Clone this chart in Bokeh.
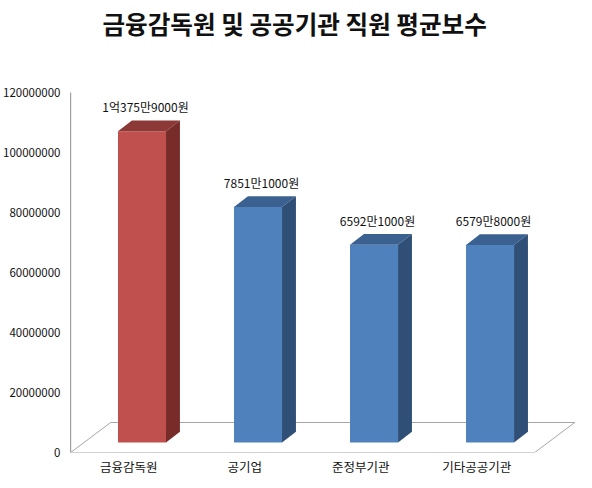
from bokeh.plotting import figure
from bokeh.embed import file_html
from bokeh.resources import INLINE
from bokeh.models import FixedTicker, NumeralTickFormatter
from bokeh.core.properties import value

# ---- data ----
title_text = "금융감독원 및 공공기관 직원 평균보수"
categories = ["금융감독원", "공기업", "준정부기관", "기타공공기관"]
salaries = [103759000, 78511000, 65921000, 65798000]
value_labels = ["1억375만9000원", "7851만1000원", "6592만1000원", "6579만8000원"]
y_ticks = [0, 20000000, 40000000, 60000000, 80000000, 100000000, 120000000]
y_max = 120000000

front_colors = ["#C0504D", "#4F81BD", "#4F81BD", "#4F81BD"]
top_colors = ["#8C3836", "#3B6190", "#3B6190", "#3B6190"]
side_colors = ["#772C2A", "#2F4F76", "#2F4F76", "#2F4F76"]

# ---- geometry (data units: 1 category = 1 x unit, y in won; 3 px per 1,000,000) ----
floor_dx, floor_dy = 0.345, 10000000   # floor depth
bar_dx, bar_dy = 0.12, 3600000         # bar depth
bar_w = 0.414
bar_shift_x, bar_base = 0.115, 3333333  # bar front sits 1/3 into floor depth
label_pad = 1700000
title_x, title_y = 1.931, 143300000

n = len(categories)
FONT = "Noto Sans CJK KR"

p = figure(frame_width=508, frame_height=445, output_backend="svg", toolbar_location=None,
           x_range=(-0.01, 4.369), y_range=(0, 148333333),
           min_border_left=64, min_border_right=4, min_border_top=7, min_border_bottom=27)
p.background_fill_color = "white"
p.border_fill_color = "white"
p.outline_line_color = None
p.grid.visible = False

# title (drawn inside the frame)
p.text(x=[title_x], y=[title_y], text=[title_text], text_font=value(FONT),
       text_font_size="24.6px", text_font_style="bold", text_color="#111111",
       text_align="center", text_baseline="middle")

# value axis line
p.segment(x0=[0], y0=[0], x1=[0], y1=[y_max], line_color="#8C8C8C", line_width=1)

# floor
p.patch([0, n, n + floor_dx, floor_dx], [0, 0, floor_dy, floor_dy],
        fill_color="white", line_color="#A6A6A6", line_width=1)

# bars
lefts = [i + 0.5 + bar_shift_x - bar_w / 2 for i in range(n)]
rights = [l + bar_w for l in lefts]
bottoms = [bar_base] * n
tops = [bar_base + v for v in salaries]

p.quad(left=lefts, right=rights, bottom=bottoms, top=tops,
       fill_color=front_colors, line_color=None)

top_xs = [[l, r, r + bar_dx, l + bar_dx] for l, r in zip(lefts, rights)]
top_ys = [[t, t, t + bar_dy, t + bar_dy] for t in tops]
p.patches(top_xs, top_ys, fill_color=top_colors, line_color=None)

side_xs = [[r, r + bar_dx, r + bar_dx, r] for r in rights]
side_ys = [[b, b + bar_dy, t + bar_dy, t] for b, t in zip(bottoms, tops)]
p.patches(side_xs, side_ys, fill_color=side_colors, line_color=None)

# value labels
lx = [(l + r) / 2 + bar_dx * 0.25 for l, r in zip(lefts, rights)]
ly = [t + bar_dy + label_pad for t in tops]
p.text(x=lx, y=ly, text=value_labels, text_font=value(FONT), text_font_size="12px",
       text_align="center", text_baseline="bottom", text_color="#111111")

# axes
p.yaxis.ticker = FixedTicker(ticks=y_ticks)
p.yaxis.formatter = NumeralTickFormatter(format="0")
p.yaxis.major_tick_line_color = None
p.yaxis.minor_tick_line_color = None
p.yaxis.major_tick_out = 0
p.yaxis.minor_tick_out = 0
p.yaxis.axis_line_color = None
p.yaxis.major_label_standoff = 9
p.yaxis.major_label_text_font = FONT
p.yaxis.major_label_text_font_size = "11.5px"
p.yaxis.major_label_text_color = "#111111"

p.xaxis.ticker = FixedTicker(ticks=[i + 0.5 for i in range(n)])
p.xaxis.major_label_overrides = {i + 0.5: c for i, c in enumerate(categories)}
p.xaxis.major_tick_line_color = None
p.xaxis.minor_tick_line_color = None
p.xaxis.major_tick_out = 0
p.xaxis.minor_tick_out = 0
p.xaxis.axis_line_color = None
p.xaxis.major_label_standoff = 4
p.xaxis.major_label_text_font = FONT
p.xaxis.major_label_text_font_size = "12.5px"
p.xaxis.major_label_text_color = "#111111"

open("out.html", "w").write(file_html(p, INLINE))
